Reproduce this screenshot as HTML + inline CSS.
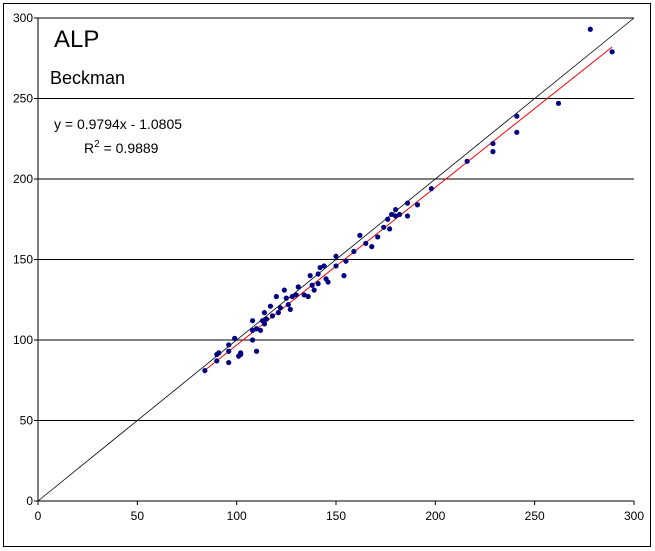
<!DOCTYPE html>
<html><head><meta charset="utf-8"><style>
body{margin:0;background:#fff;}
svg{display:block;font-family:"Liberation Sans",Arial,sans-serif;}
</style></head><body>
<svg id="chart" width="655" height="551">
<rect x="3.5" y="3.5" width="647" height="543" fill="#fff" stroke="#000"/>
<g id="grid"></g>
<g id="ticks"></g>
<g id="lines"></g>
<g id="pts"></g>
<text x="54" y="47" font-size="24">ALP</text>
<text x="50" y="84" font-size="18">Beckman</text>
<text x="54" y="129" font-size="14">y = 0.9794x - 1.0805</text>
<text x="84" y="153" font-size="14">R<tspan dy="-6" font-size="10">2</tspan><tspan dy="6"> = 0.9889</tspan></text>
</svg>
<script>
const xTicks=[0,50,100,150,200,250,300];
const yTicks=[0,50,100,150,200,250,300];
const xVals=[84,90,90,91,96,96,96,99,101,102,102,108,108,108,110,110,112,113,114,114,115,117,118,120,121,122,124,125,126,127,128,130,131,134,136,137,138,139,141,141,142,144,145,146,150,150,154,155,159,162,165,168,171,174,176,177,178,180,180,182,186,186,191,198,216,229,229,241,241,262,278,289];
const yVals=[81,87,91,92,97,93,86,101,90,91,92,100,106,112,93,107,106,112,117,110,113,121,115,127,117,120,131,126,122,119,127,128,133,128,127,140,134,131,141,135,145,146,138,136,152,146,140,149,155,165,160,158,164,170,175,169,178,181,177,178,185,177,184,194,211,217,222,229,239,247,293,279];
const slope=0.9794, intercept=-1.0805;
const X0=38,X1=634,Y0=501,Y1=18;
const sx=v=>X0+(v/300)*(X1-X0);
const sy=v=>Y0-(v/300)*(Y0-Y1);
const NS="http://www.w3.org/2000/svg";
function mk(t,a,p){const e=document.createElementNS(NS,t);for(const k in a)e.setAttribute(k,a[k]);p.appendChild(e);return e;}
const grid=document.getElementById('grid'),ticks=document.getElementById('ticks'),lines=document.getElementById('lines'),pts=document.getElementById('pts');
yTicks.forEach(v=>{
 if(v>0){const l=mk('line',{x1:X0,x2:X1,y1:sy(v),y2:sy(v),stroke:'#000','stroke-width':1},grid);
 
 }
 const tk=mk('line',{x1:X0-4,x2:X0,y1:sy(v),y2:sy(v),stroke:'#000'},ticks);
 
 
 const t=mk('text',{x:X0-5,y:sy(v)+4,'font-size':12,'text-anchor':'end'},ticks);t.textContent=v;
 
 
});
xTicks.forEach(v=>{
 const tk=mk('line',{x1:sx(v),x2:sx(v),y1:Y0,y2:Y0+4,stroke:'#000'},ticks);
 
 
 const t=mk('text',{x:sx(v),y:Y0+19,'font-size':12,'text-anchor':'middle'},ticks);t.textContent=v;
 
 
});
const ya=mk('line',{x1:X0,x2:X0,y1:Y1,y2:Y0,stroke:'#000'},ticks);


const xa=mk('line',{x1:X0,x2:X1,y1:Y0,y2:Y0,stroke:'#000'},ticks);


const idl=mk('line',{x1:sx(0),y1:sy(0),x2:sx(300),y2:sy(300),stroke:'#000','stroke-width':0.8},lines);


const xmin=Math.min(...xVals),xmax=Math.max(...xVals);
const rl=mk('line',{x1:sx(xmin),y1:sy(slope*xmin+intercept),x2:sx(xmax),y2:sy(slope*xmax+intercept),stroke:'#f00','stroke-width':1},lines);


xVals.forEach((x,i)=>{
 const c=mk('circle',{cx:sx(x),cy:sy(yVals[i]),r:2.6,fill:'#000080'},pts);
 
 
});
</script>
</body></html>
